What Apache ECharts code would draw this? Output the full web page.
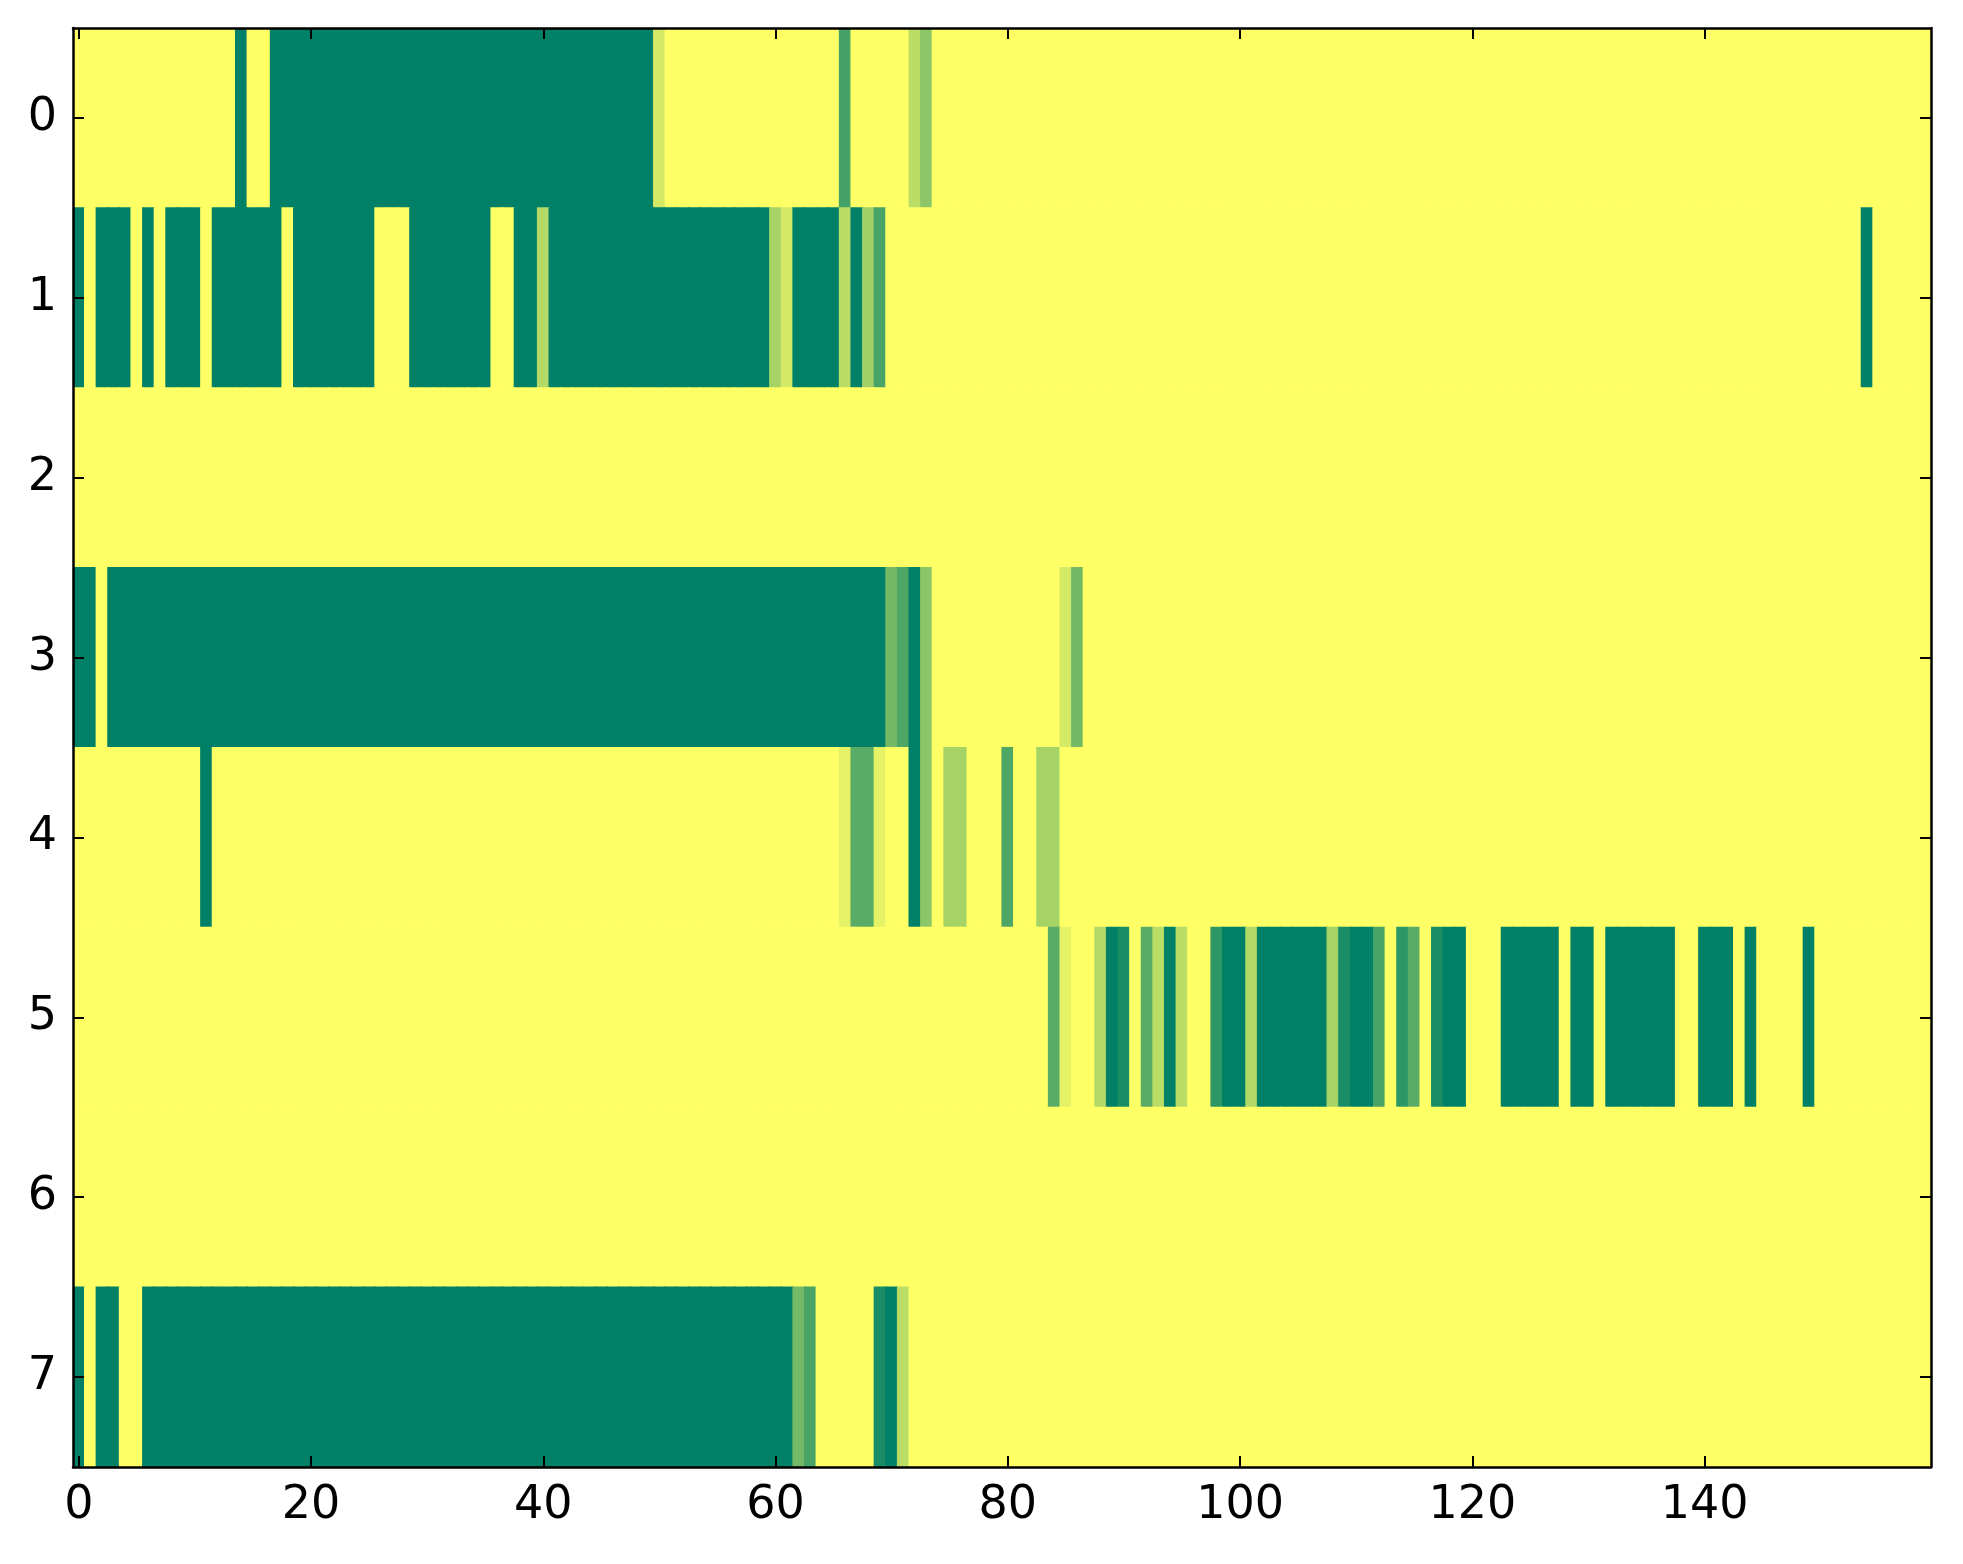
<!DOCTYPE html>
<html>
<head>
<meta charset="utf-8">
<script src="https://cdn.jsdelivr.net/npm/echarts@6/dist/echarts.min.js"></script>
<style>
html,body{margin:0;padding:0;background:#fff;}
#chart{width:1963px;height:1564px;}
</style>
</head>
<body>
<div id="chart"></div>
<script>
// Row labels (y categories) and x tick labels
const rowLabels = ['0','1','2','3','4','5','6','7'];
const xTickLabels = [0, 20, 40, 60, 80, 100, 120, 140];
const nCols = 160;

// cell values per row, columns 0..159 (10 per group)
const row0 = [
0,0,0,0,0,0,0,0,0,0, 0,0,0,0,1,0,0,1,1,1, 1,1,1,1,1,1,1,1,1,1, 1,1,1,1,1,1,1,1,1,1,
1,1,1,1,1,1,1,1,1,1, .17,0,0,0,0,0,0,0,0,0, 0,0,0,0,0,0,.73,0,0,0, 0,0,.27,.45,0,0,0,0,0,0,
0,0,0,0,0,0,0,0,0,0, 0,0,0,0,0,0,0,0,0,0, 0,0,0,0,0,0,0,0,0,0, 0,0,0,0,0,0,0,0,0,0,
0,0,0,0,0,0,0,0,0,0, 0,0,0,0,0,0,0,0,0,0, 0,0,0,0,0,0,0,0,0,0, 0,0,0,0,0,0,0,0,0,0
];
const row1 = [
1,0,1,1,1,0,1,0,1,1, 1,0,1,1,1,1,1,1,0,1, 1,1,1,1,1,1,0,0,0,1, 1,1,1,1,1,1,0,0,1,1,
.3,1,1,1,1,1,1,1,1,1, 1,1,1,1,1,1,1,1,1,1, .35,.17,1,1,1,1,.27,1,.37,.72, 0,0,0,0,0,0,0,0,0,0,
0,0,0,0,0,0,0,0,0,0, 0,0,0,0,0,0,0,0,0,0, 0,0,0,0,0,0,0,0,0,0, 0,0,0,0,0,0,0,0,0,0,
0,0,0,0,0,0,0,0,0,0, 0,0,0,0,0,0,0,0,0,0, 0,0,0,0,0,0,0,0,0,0, 0,0,0,0,1,0,0,0,0,0
];
const row2 = [
0,0,0,0,0,0,0,0,0,0, 0,0,0,0,0,0,0,0,0,0, 0,0,0,0,0,0,0,0,0,0, 0,0,0,0,0,0,0,0,0,0,
0,0,0,0,0,0,0,0,0,0, 0,0,0,0,0,0,0,0,0,0, 0,0,0,0,0,0,0,0,0,0, 0,0,0,0,0,0,0,0,0,0,
0,0,0,0,0,0,0,0,0,0, 0,0,0,0,0,0,0,0,0,0, 0,0,0,0,0,0,0,0,0,0, 0,0,0,0,0,0,0,0,0,0,
0,0,0,0,0,0,0,0,0,0, 0,0,0,0,0,0,0,0,0,0, 0,0,0,0,0,0,0,0,0,0, 0,0,0,0,0,0,0,0,0,0
];
const row3 = [
1,1,0,1,1,1,1,1,1,1, 1,1,1,1,1,1,1,1,1,1, 1,1,1,1,1,1,1,1,1,1, 1,1,1,1,1,1,1,1,1,1,
1,1,1,1,1,1,1,1,1,1, 1,1,1,1,1,1,1,1,1,1, 1,1,1,1,1,1,1,1,1,1, .55,.7,1,.45,0,0,0,0,0,0,
0,0,0,0,0,.17,.55,0,0,0, 0,0,0,0,0,0,0,0,0,0, 0,0,0,0,0,0,0,0,0,0, 0,0,0,0,0,0,0,0,0,0,
0,0,0,0,0,0,0,0,0,0, 0,0,0,0,0,0,0,0,0,0, 0,0,0,0,0,0,0,0,0,0, 0,0,0,0,0,0,0,0,0,0
];
const row4 = [
0,0,0,0,0,0,0,0,0,0, 0,1,0,0,0,0,0,0,0,0, 0,0,0,0,0,0,0,0,0,0, 0,0,0,0,0,0,0,0,0,0,
0,0,0,0,0,0,0,0,0,0, 0,0,0,0,0,0,0,0,0,0, 0,0,0,0,0,0,.1,.65,.65,.1, 0,0,1,.45,0,.35,.35,0,0,0,
.7,0,0,.35,.35,0,0,0,0,0, 0,0,0,0,0,0,0,0,0,0, 0,0,0,0,0,0,0,0,0,0, 0,0,0,0,0,0,0,0,0,0,
0,0,0,0,0,0,0,0,0,0, 0,0,0,0,0,0,0,0,0,0, 0,0,0,0,0,0,0,0,0,0, 0,0,0,0,0,0,0,0,0,0
];
const row5 = [
0,0,0,0,0,0,0,0,0,0, 0,0,0,0,0,0,0,0,0,0, 0,0,0,0,0,0,0,0,0,0, 0,0,0,0,0,0,0,0,0,0,
0,0,0,0,0,0,0,0,0,0, 0,0,0,0,0,0,0,0,0,0, 0,0,0,0,0,0,0,0,0,0, 0,0,0,0,0,0,0,0,0,0,
0,0,0,0,.65,.1,0,0,.3,1, .9,0,.65,.27,1,.27,0,0,.82,1, 1,.3,1,1,1,1,1,1,.35,.9, 1,1,.72,0,.82,.65,0,.9,1,1,
0,0,0,1,1,1,1,1,0,1, 1,0,1,1,1,1,1,1,0,0, 1,1,1,0,1,0,0,0,0,1, 0,0,0,0,0,0,0,0,0,0
];
const row6 = [
0,0,0,0,0,0,0,0,0,0, 0,0,0,0,0,0,0,0,0,0, 0,0,0,0,0,0,0,0,0,0, 0,0,0,0,0,0,0,0,0,0,
0,0,0,0,0,0,0,0,0,0, 0,0,0,0,0,0,0,0,0,0, 0,0,0,0,0,0,0,0,0,0, 0,0,0,0,0,0,0,0,0,0,
0,0,0,0,0,0,0,0,0,0, 0,0,0,0,0,0,0,0,0,0, 0,0,0,0,0,0,0,0,0,0, 0,0,0,0,0,0,0,0,0,0,
0,0,0,0,0,0,0,0,0,0, 0,0,0,0,0,0,0,0,0,0, 0,0,0,0,0,0,0,0,0,0, 0,0,0,0,0,0,0,0,0,0
];
const row7 = [
1,0,1,1,0,0,1,1,1,1, 1,1,1,1,1,1,1,1,1,1, 1,1,1,1,1,1,1,1,1,1, 1,1,1,1,1,1,1,1,1,1,
1,1,1,1,1,1,1,1,1,1, 1,1,1,1,1,1,1,1,1,1, 1,1,.55,.72,0,0,0,0,0,.9, 1,.27,0,0,0,0,0,0,0,0,
0,0,0,0,0,0,0,0,0,0, 0,0,0,0,0,0,0,0,0,0, 0,0,0,0,0,0,0,0,0,0, 0,0,0,0,0,0,0,0,0,0,
0,0,0,0,0,0,0,0,0,0, 0,0,0,0,0,0,0,0,0,0, 0,0,0,0,0,0,0,0,0,0, 0,0,0,0,0,0,0,0,0,0
];

const rows = [row0, row1, row2, row3, row4, row5, row6, row7];
const xCats = [];
for (let i = 0; i < nCols; i++) xCats.push(String(i));
const data = [];
rows.forEach((r, y) => r.forEach((v, x) => data.push([x, y, v])));

const isTick = (idx) => xTickLabels.indexOf(idx) >= 0;
const font = { fontFamily: 'DejaVu Sans', fontSize: 46, color: '#000' };
const line = { show: true, onZero: false, lineStyle: { color: '#000', width: 2.5 } };
const tickX = { show: true, inside: true, length: 11, alignWithLabel: true, interval: isTick, lineStyle: { color: '#000', width: 2 } };
const tickY = { show: true, inside: true, length: 11, alignWithLabel: true, lineStyle: { color: '#000', width: 2 } };

const chart = echarts.init(document.getElementById('chart'), null, { renderer: 'canvas' });
chart.setOption({
  backgroundColor: '#fff',
  animation: false,
  grid: { left: 73, right: 32, top: 28, bottom: 97, containLabel: false },
  xAxis: [
    { type: 'category', data: xCats, position: 'bottom', z: 10, axisLine: line, axisTick: tickX,
      axisLabel: Object.assign({ interval: isTick, margin: 16 }, font), splitLine: { show: false } },
    { type: 'category', data: xCats, position: 'top', z: 10, axisLine: line, axisTick: tickX,
      axisLabel: { show: false }, splitLine: { show: false } }
  ],
  yAxis: [
    { type: 'category', data: rowLabels, inverse: true, position: 'left', z: 10, axisLine: line, axisTick: tickY,
      axisLabel: Object.assign({ margin: 16 }, font), splitLine: { show: false } },
    { type: 'category', data: rowLabels, inverse: true, position: 'right', z: 10, axisLine: line, axisTick: tickY,
      axisLabel: { show: false }, splitLine: { show: false } }
  ],
  visualMap: { show: false, min: 0, max: 1, dimension: 2, seriesIndex: 0, inRange: { color: ['#ffff66', '#008066'] } },
  series: [{
    type: 'custom', xAxisIndex: 0, yAxisIndex: 0, data: data, z: 1,
    encode: { x: 0, y: 1 },
    clip: true,
    renderItem: function (params, api) {
      const c = api.coord([api.value(0), api.value(1)]);
      const s = api.size([1, 1]);
      return {
        type: 'rect',
        shape: { x: c[0] - s[0] / 2 - 0.6, y: c[1] - s[1] / 2 - 0.6, width: s[0] + 1.2, height: s[1] + 1.2 },
        style: { fill: api.visual('color'), stroke: null }
      };
    }
  }]
});
</script>
</body>
</html>
